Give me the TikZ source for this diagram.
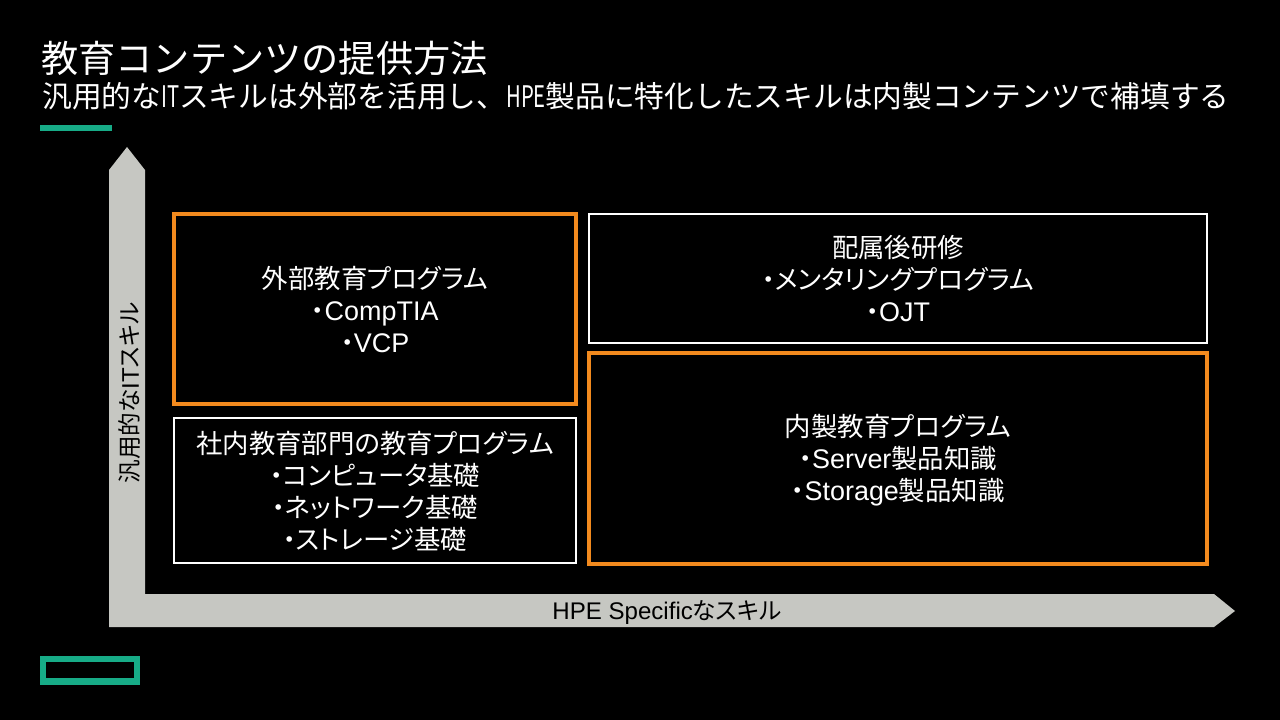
\documentclass[tikz,border=0pt]{standalone}
\usepackage{fontspec}
\setmainfont{Noto Sans CJK JP}
\newfontfamily\lat[Scale=1.02]{Liberation Sans}
\newfontfamily\pjp[RawFeature=+palt]{Noto Sans CJK JP}
\newcommand{\narrowlat}[1]{\scalebox{.68}[1]{#1}}
\definecolor{hpegreen}{HTML}{17AB87}
\definecolor{boxorange}{HTML}{F28A1E}
\definecolor{axisgray}{HTML}{C6C7C2}
\tikzset{
    boxtext/.style={text=white,font=\pjp\fontsize{19.8pt}{24pt}\selectfont,align=center,inner sep=0pt,outer sep=0pt,text depth=0pt},
    orangebox/.style={draw=boxorange,line width=3pt,inner sep=0pt,outer sep=0pt},
    whitebox/.style={draw=white,line width=1.5pt,inner sep=0pt,outer sep=0pt},
    axislabel/.style={text=black,font=\pjp\fontsize{17.7pt}{20pt}\selectfont,inner sep=0pt}
}
\begin{document}
\begin{tikzpicture}[x=.75pt,y=-.75pt]
    \useasboundingbox[fill=black] (0,0) rectangle (1280,720);
    % title
    \node[anchor=base west,text=white,inner sep=0pt,font=\fontsize{27.9pt}{30pt}\selectfont] (title) at (41,73) {教育コンテンツの提供方法};
    \node[anchor=base west,text=white,inner sep=0pt,font=\fontsize{22.3pt}{24pt}\selectfont] (subtitle) at (42,108) {汎用的な\narrowlat{IT}スキルは外部を活用し、\narrowlat{HPE}製品に特化したスキルは内製コンテンツで補填する};
    \fill[hpegreen] (40,125) rectangle (112,131);
    % axes
    \fill[axisgray] (127,147) -- (145,170) -- (145,594) -- (1214,594) -- (1235,611) -- (1214,627) -- (109,627) -- (109,170) -- cycle;
    \node[axislabel,rotate=90] (ylabel) at (130,393) {汎用的な{\lat IT}スキル};
    \node[axislabel] (xlabel) at (667,613) {{\lat HPE Specific}なスキル};
    % boxes
    \foreach \name/\style/\x/\y/\w/\h/\dy/\txt in {
        external/orangebox/375/309/402/190/0/{外部教育プログラム\\・{\lat CompTIA}\\・{\lat VCP}},
        training/whitebox/898/278.5/618/129/0/{配属後研修\\・メンタリングプログラム\\・{\lat OJT}},
        internal/whitebox/375/490.5/402/145/0/{社内教育部門の教育プログラム\\・コンピュータ基礎\\・ネットワーク基礎\\・ストレージ基礎},
        inhouse/orangebox/898/458.5/618/211/-1/{内製教育プログラム\\・{\lat Server}製品知識\\・{\lat Storage}製品知識}}
    {
        \node[\style,minimum width=\w*.75pt,minimum height=\h*.75pt] (\name) at (\x,\y) {};
        \node[boxtext] (\name text) at (\x,\y+\dy) {\txt};
    }
    % logo
    \draw[hpegreen,line width=4.6pt] (43,659) rectangle (137,681.5);
\end{tikzpicture}
\end{document}
